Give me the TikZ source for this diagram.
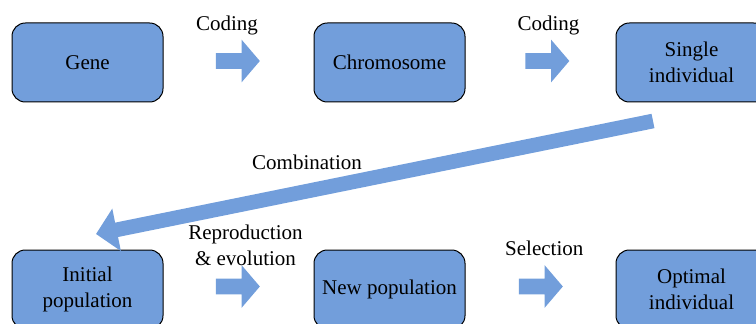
\documentclass[tikz,border=0pt]{standalone}
\usepackage{fontspec}
\setmainfont{Liberation Serif}
\usepackage{tikz}
\usetikzlibrary{positioning,shapes.arrows,arrows.meta,calc}
\definecolor{stageblue}{RGB}{114,158,219}

\begin{document}
\begin{tikzpicture}[x=0.75pt,y=-0.75pt,
    font=\fontsize{15.75}{19.5}\selectfont,
    stage/.style={draw=black,line width=0.75pt,fill=stageblue,rounded corners=10pt,
        minimum width=113.25pt,minimum height=59.25pt,align=center,inner sep=0pt,outer sep=0pt},
    fatarrow/.style={single arrow,fill=stageblue,draw=none,minimum height=33pt,
        inner xsep=0pt,inner ysep=5.625pt,single arrow head extend=10.125pt,single arrow tip angle=99},
    comb/.style={draw=stageblue,line width=11pt,-{Triangle[length=15.75pt,width=31.5pt]}}]
            \useasboundingbox (0,0) rectangle (756,324);
            \clip (0,0) rectangle (756,324);
            % top row
            \node[stage] (gene) at (87.5,62.5) {Gene};
            \node[stage,right=113.25pt of gene] (chrom) {Chromosome};
            \node[stage,right=113.25pt of chrom] (single) {Single\\individual};
            % bottom row
            \node[stage] (initial) at (87.5,289.5) {Initial\\population};
            \node[stage,right=113.25pt of initial] (newpop) {New population};
            \node[stage,right=113.25pt of newpop] (optimal) {Optimal\\individual};
            % block arrows
            \node[fatarrow] (code1) at ($(gene.east)!0.5!(chrom.west)+(-4,-1.5)$) {};
            \node[fatarrow] (code2) at ($(chrom.east)!0.5!(single.west)+(3.5,-1.5)$) {};
            \node[fatarrow] (repro) at ($(initial.east)!0.5!(newpop.west)+(-4,-3)$) {};
            \node[fatarrow] (select) at ($(newpop.east)!0.5!(optimal.west)+(-3,-3)$) {};
            \node[anchor=base] (codetext1) at (227,30.5) {Coding};
            \node[anchor=base] (codetext2) at (548.5,30.5) {Coding};
            \node[align=center,inner sep=0pt] (reprotext) at (245.5,245) {Reproduction\\\& evolution};
            \node[anchor=base] (selecttext) at (544.3,255.7) {Selection};
            % combination arrow
            \coordinate (combstart) at ($(single.south west)+(37,19)$);
            \coordinate (combtip) at ($(initial.north west)+(84,-16)$);
            \draw[comb] (combstart) -- (combtip);
            \node[anchor=base] (combtext) at (307,170) {Combination};
        \end{tikzpicture}
\end{document}
